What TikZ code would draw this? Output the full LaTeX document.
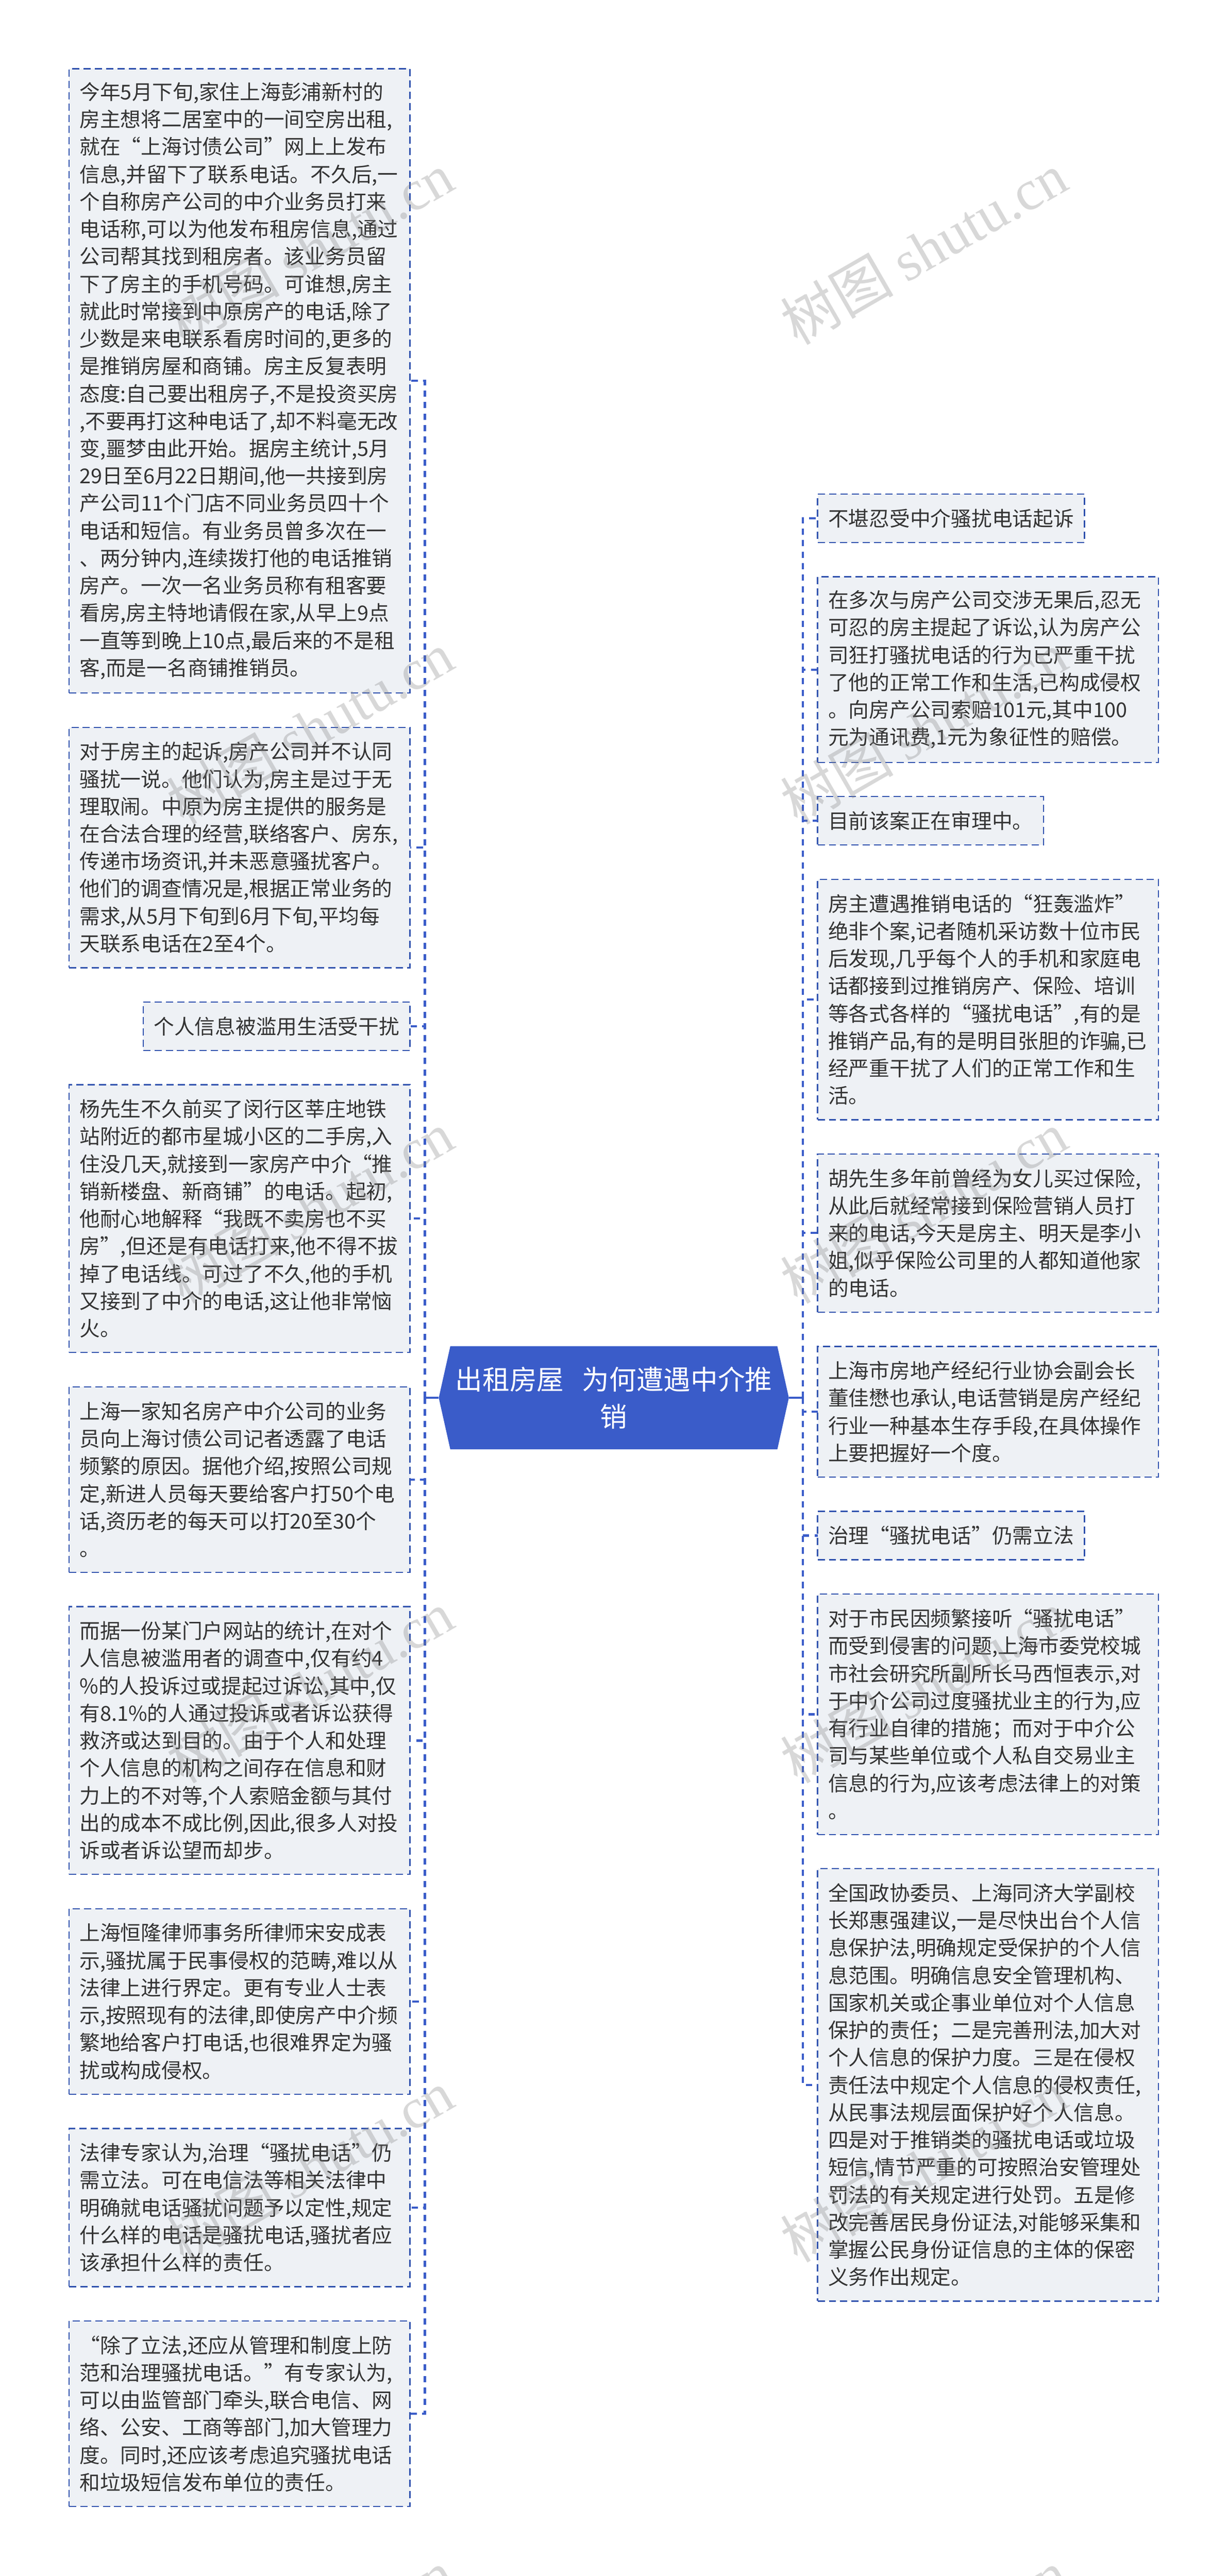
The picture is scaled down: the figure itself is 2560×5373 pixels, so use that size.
\documentclass[tikz,border=0pt]{standalone}
\usepackage{fontspec}
\setmainfont{Noto Sans CJK SC}
\newfontfamily\markfont{Liberation Serif}
\usetikzlibrary{positioning,backgrounds}
\definecolor{rootblue}{HTML}{3A5CC9}
\definecolor{edgeblue}{HTML}{3052AE}
\definecolor{notefill}{HTML}{EEF1F5}
\definecolor{notetext}{HTML}{333333}
\tikzset{
    root/.style={minimum width=730pt,minimum height=215pt,inner sep=0pt,outer sep=0pt,text=white,align=center,
        font=\fontsize{56.6}{77}\selectfont},
    note/.style={draw=edgeblue,line width=2.5pt,dash pattern=on 15pt off 8.5pt,fill=notefill,text=notetext,
        inner xsep=22pt,inner ysep=0pt,outer sep=0pt,minimum height=#1*57.2pt+43.8pt,
        font=\fontsize{42.7}{57.2}\selectfont},
    wide/.style={text width=667pt,align=left},
    stub/.style={draw=rootblue,line width=4.5pt},
    branch/.style={draw=rootblue,line width=4.5pt,dash pattern=on 13pt off 11pt},
    wmark/.style={rotate=30,text=gray,text opacity=.3,font=\fontsize{118}{118}\selectfont}
}
\begin{document}
\begin{tikzpicture}[x=1pt,y=-1pt]
\useasboundingbox (0,0) rectangle (2560,5373);
\node[root] (topic) at (1280,2915.5) {出租房屋\hspace{38pt}为何遭遇中介推\\销};
\begin{scope}[on background layer]
\fill[white] (0,0) rectangle (2560,5373);
\fill[rootblue] (topic.west) -- ([xshift=24pt]topic.north west) -- ([xshift=-24pt]topic.north east) -- (topic.east)
    -- ([xshift=-24pt]topic.south east) -- ([xshift=24pt]topic.south west) -- cycle;
\end{scope}
\coordinate (ltrunk) at (886,2915.5);
\coordinate (rtrunk) at (1674,2915.5);

\node[note=22,wide,anchor=north east] (left1) at (855,143.4) {今年5月下旬,家住上海彭浦新村的\\房主想将二居室中的一间空房出租,\\就在“上海讨债公司”网上上发布\\信息,并留下了联系电话。不久后,一\\个自称房产公司的中介业务员打来\\电话称,可以为他发布租房信息,通过\\公司帮其找到租房者。该业务员留\\下了房主的手机号码。可谁想,房主\\就此时常接到中原房产的电话,除了\\少数是来电联系看房时间的,更多的\\是推销房屋和商铺。房主反复表明\\态度:自己要出租房子,不是投资买房\\,不要再打这种电话了,却不料毫无改\\变,噩梦由此开始。据房主统计,5月\\29日至6月22日期间,他一共接到房\\产公司11个门店不同业务员四十个\\电话和短信。有业务员曾多次在一\\、两分钟内,连续拨打他的电话推销\\房产。一次一名业务员称有租客要\\看房,房主特地请假在家,从早上9点\\一直等到晚上10点,最后来的不是租\\客,而是一名商铺推销员。};
\node[note=8,wide,below=71.5pt of left1.south east,anchor=north east] (left2) {对于房主的起诉,房产公司并不认同\\骚扰一说。他们认为,房主是过于无\\理取闹。中原为房主提供的服务是\\在合法合理的经营,联络客户、房东,\\传递市场资讯,并未恶意骚扰客户。\\他们的调查情况是,根据正常业务的\\需求,从5月下旬到6月下旬,平均每\\天联系电话在2至4个。};
\node[note=1,below=71.5pt of left2.south east,anchor=north east] (left3) {个人信息被滥用生活受干扰};
\node[note=9,wide,below=71.5pt of left3.south east,anchor=north east] (left4) {杨先生不久前买了闵行区莘庄地铁\\站附近的都市星城小区的二手房,入\\住没几天,就接到一家房产中介“推\\销新楼盘、新商铺”的电话。起初,\\他耐心地解释“我既不卖房也不买\\房”,但还是有电话打来,他不得不拔\\掉了电话线。可过了不久,他的手机\\又接到了中介的电话,这让他非常恼\\火。};
\node[note=6,wide,below=71.5pt of left4.south east,anchor=north east] (left5) {上海一家知名房产中介公司的业务\\员向上海讨债公司记者透露了电话\\频繁的原因。据他介绍,按照公司规\\定,新进人员每天要给客户打50个电\\话,资历老的每天可以打20至30个\\。};
\node[note=9,wide,below=71.5pt of left5.south east,anchor=north east] (left6) {而据一份某门户网站的统计,在对个\\人信息被滥用者的调查中,仅有约4\\\%的人投诉过或提起过诉讼,其中,仅\\有8.1\%的人通过投诉或者诉讼获得\\救济或达到目的。由于个人和处理\\个人信息的机构之间存在信息和财\\力上的不对等,个人索赔金额与其付\\出的成本不成比例,因此,很多人对投\\诉或者诉讼望而却步。};
\node[note=6,wide,below=71.5pt of left6.south east,anchor=north east] (left7) {上海恒隆律师事务所律师宋安成表\\示,骚扰属于民事侵权的范畴,难以从\\法律上进行界定。更有专业人士表\\示,按照现有的法律,即使房产中介频\\繁地给客户打电话,也很难界定为骚\\扰或构成侵权。};
\node[note=5,wide,below=71.5pt of left7.south east,anchor=north east] (left8) {法律专家认为,治理“骚扰电话”仍\\需立法。可在电信法等相关法律中\\明确就电话骚扰问题予以定性,规定\\什么样的电话是骚扰电话,骚扰者应\\该承担什么样的责任。};
\node[note=6,wide,below=71.5pt of left8.south east,anchor=north east] (left9) {“除了立法,还应从管理和制度上防\\范和治理骚扰电话。”有专家认为,\\可以由监管部门牵头,联合电信、网\\络、公安、工商等部门,加大管理力\\度。同时,还应该考虑追究骚扰电话\\和垃圾短信发布单位的责任。};

\node[note=1,anchor=north west] (right1) at (1705,1030.6) {不堪忍受中介骚扰电话起诉};
\node[note=6,wide,below=71.5pt of right1.south west,anchor=north west] (right2) {在多次与房产公司交涉无果后,忍无\\可忍的房主提起了诉讼,认为房产公\\司狂打骚扰电话的行为已严重干扰\\了他的正常工作和生活,已构成侵权\\。向房产公司索赔101元,其中100\\元为通讯费,1元为象征性的赔偿。};
\node[note=1,below=71.5pt of right2.south west,anchor=north west] (right3) {目前该案正在审理中。};
\node[note=8,wide,below=71.5pt of right3.south west,anchor=north west] (right4) {房主遭遇推销电话的“狂轰滥炸”\\绝非个案,记者随机采访数十位市民\\后发现,几乎每个人的手机和家庭电\\话都接到过推销房产、保险、培训\\等各式各样的“骚扰电话”,有的是\\推销产品,有的是明目张胆的诈骗,已\\经严重干扰了人们的正常工作和生\\活。};
\node[note=5,wide,below=71.5pt of right4.south west,anchor=north west] (right5) {胡先生多年前曾经为女儿买过保险,\\从此后就经常接到保险营销人员打\\来的电话,今天是房主、明天是李小\\姐,似乎保险公司里的人都知道他家\\的电话。};
\node[note=4,wide,below=71.5pt of right5.south west,anchor=north west] (right6) {上海市房地产经纪行业协会副会长\\董佳懋也承认,电话营销是房产经纪\\行业一种基本生存手段,在具体操作\\上要把握好一个度。};
\node[note=1,below=71.5pt of right6.south west,anchor=north west] (right7) {治理“骚扰电话”仍需立法};
\node[note=8,wide,below=71.5pt of right7.south west,anchor=north west] (right8) {对于市民因频繁接听“骚扰电话”\\而受到侵害的问题,上海市委党校城\\市社会研究所副所长马西恒表示,对\\于中介公司过度骚扰业主的行为,应\\有行业自律的措施；而对于中介公\\司与某些单位或个人私自交易业主\\信息的行为,应该考虑法律上的对策\\。};
\node[note=15,wide,below=71.5pt of right8.south west,anchor=north west] (right9) {全国政协委员、上海同济大学副校\\长郑惠强建议,一是尽快出台个人信\\息保护法,明确规定受保护的个人信\\息范围。明确信息安全管理机构、\\国家机关或企事业单位对个人信息\\保护的责任；二是完善刑法,加大对\\个人信息的保护力度。三是在侵权\\责任法中规定个人信息的侵权责任,\\从民事法规层面保护好个人信息。\\四是对于推销类的骚扰电话或垃圾\\短信,情节严重的可按照治安管理处\\罚法的有关规定进行处罚。五是修\\改完善居民身份证法,对能够采集和\\掌握公民身份证信息的主体的保密\\义务作出规定。};

\draw[stub] (topic.west) -- (ltrunk);
\draw[stub] (topic.east) -- (rtrunk);
\foreach \n in {1,...,9} {
    \draw[branch] (ltrunk) |- (left\n.east);
    \draw[branch] (rtrunk) |- (right\n.west);
}

\foreach \row/\y in {1/518,2/1518,3/2518,4/3518,5/4518,6/5518} {
    \node[wmark] (markl\row) at (646,\y) {树图 {\markfont shutu.cn}};
    \node[wmark] (markr\row) at (1926,\y) {树图 {\markfont shutu.cn}};
}
\end{tikzpicture}
\end{document}
